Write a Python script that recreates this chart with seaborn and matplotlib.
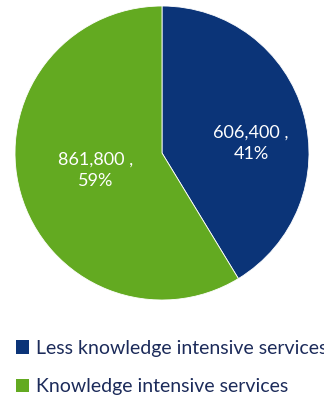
import seaborn as sns
import matplotlib.pyplot as plt
from matplotlib.patches import Patch

# data
categories = ['Less knowledge intensive services', 'Knowledge intensive services']
values = [606400, 861800]
colors = ['#0b3478', '#63aa21']

sns.set_theme(style='white')
plt.rcParams['font.family'] = ['Lato', 'DejaVu Sans']

W, H = 324, 397
fig = plt.figure(figsize=(W / 100, H / 100), dpi=100)
fig.patch.set_facecolor('white')

# pie area: centre (162,153), radius 147 px
cx, cy, r = 162, 153, 147
ax = fig.add_axes([(cx - r) / W, (H - cy - r) / H, 2 * r / W, 2 * r / H])

total = sum(values)
wedges, _ = ax.pie(values, colors=sns.color_palette(colors), startangle=90,
                   counterclock=False, radius=1,
                   wedgeprops=dict(edgecolor='white', linewidth=0.6))
ax.set_xlim(-1, 1)
ax.set_ylim(-1, 1)
ax.axis('off')

# data labels (value , percent)
label_pos = [(0.605, 0.065), (-0.45, -0.12)]
for v, (x, y) in zip(values, label_pos):
    ax.text(x, y, f'{v:,} ,\n{v / total:.0%}', color='white', fontsize=13,
            ha='center', va='center', linespacing=1.4)

# legend below the pie
handles = [Patch(facecolor=c, edgecolor='none') for c in colors]
fig.legend(handles, categories, loc='upper left', bbox_to_anchor=(0.025, 0.163),
           frameon=False, fontsize=14, labelcolor='#1c2b5a',
           handlelength=0.7, handleheight=0.7, handletextpad=0.35,
           labelspacing=1.1, borderaxespad=0)

fig.savefig('out.png', dpi=100)
